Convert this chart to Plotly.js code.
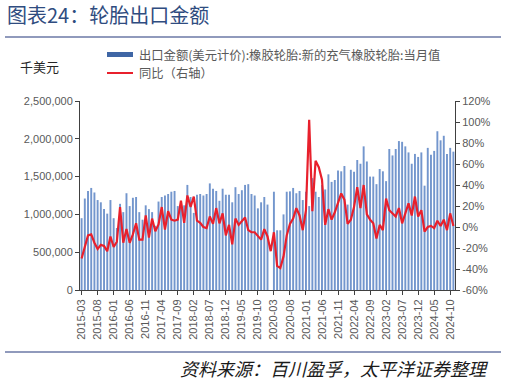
<!DOCTYPE html>
<html>
<head>
<meta charset="utf-8">
<script src="https://cdn.plot.ly/plotly-3.0.1.min.js"></script>
<style>
  html, body { margin: 0; padding: 0; background: #ffffff; }
  #chart { width: 507px; height: 380px; }
</style>
</head>
<body>
<div id="chart"></div>
<script>
// ---- Data ----
const startMonth = "2015-03";
const endMonth = "2024-11";

// Monthly export value, thousand USD (出口金额, 当月值), one row per calendar year
const export2015 = [950000, 1210000, 1310000, 1350000, 1290000, 1190000, 1160000, 1070000, 1010000, 1190000];
const export2016 = [950000, 820000, 1140000, 1030000, 1280000, 1110000, 1220000, 1230000, 1030000, 930000, 1120000, 1070000];
const export2017 = [1030000, 850000, 1170000, 1230000, 1250000, 1270000, 1300000, 1310000, 1110000, 1170000, 1120000, 1390000];
const export2018 = [1230000, 1020000, 1260000, 1270000, 1250000, 1270000, 1410000, 1340000, 1310000, 1180000, 1340000, 1260000];
const export2019 = [1260000, 1160000, 1360000, 1270000, 1320000, 1390000, 1400000, 1270000, 1250000, 1080000, 1160000, 1230000];
const export2020 = [1130000, null, 1300000, 790000, 790000, 1000000, 1300000, 1305000, 1350000, 1280000, 1310000, 1190000];
const export2021 = [1300000, 1110000, 1480000, 1300000, 1230000, 1390000, 1330000, 1530000, 1430000, 1455000, 1580000, 1570000];
const export2022 = [1640000, 1130000, 1590000, 1565000, 1720000, 1670000, 1900000, 1700000, 1500000, 1500000, 1400000, 1600000];
const export2023 = [1570000, 1440000, 1865000, 1780000, 1865000, 1970000, 1960000, 1900000, 1820000, 1670000, 1800000, 1760000];
const export2024 = [1820000, 1380000, 1880000, 1790000, 1840000, 2100000, 1980000, 2040000, 1800000, 1880000, 1830000];

// Year-on-year change, % (同比, right axis)
const yoy2015 = [-30, -19, -8, -7, -15, -21, -17, -18, -23, -9];
const yoy2016 = [-19, -14, 19, -15, -2, -15, -7, 3.5, -12, -12, 11, -10];
const yoy2017 = [8, -4, 2.5, 19, -2.5, 15, 7, 6, 7, 25, 4, 30];
const yoy2018 = [19, 29, 6, 4, 0, -1, 10, 3, 18, 3.5, 13, -8];
const yoy2019 = [2, -16.5, 8, 2, 6, 9, -3, -5, -5, -8, -12, -2];
const yoy2020 = [-9, -23, -5, -37, -39, -28, -8, 3, 8, 18, 11, -3];
const yoy2021 = [16, 102, 15, 63, 57, 45, 2, 17, 7, 14, 22, 32];
const yoy2022 = [26, 3, 7, 19, 38, 18, 40, 12, 7, 3.5, -11, 2];
const yoy2023 = [-3, 27, 16, 13, 10, 18, 3.5, 13, 22.5, 11, 29, 10];
const yoy2024 = [16, -4.4, 0, 1, -1, 6, 1, 7, -3, 13, 1];

const barName = "出口金额(美元计价):橡胶轮胎:新的充气橡胶轮胎:当月值";
const lineName = "同比（右轴）";
const titleText = "图表24：轮胎出口金额";
const unitText = "千美元";
const sourceText = "资料来源：百川盈孚，太平洋证券整理";
const leftTicks = [0, 500000, 1000000, 1500000, 2000000, 2500000];
const rightTicks = [-60, -40, -20, 0, 20, 40, 60, 80, 100, 120];
const rightTickText = ["-60%", "-40%", "-20%", "0%", "20%", "40%", "60%", "80%", "100%", "120%"];

// ---- Build series ----
const exportValues = [].concat(export2015, export2016, export2017, export2018, export2019,
  export2020, export2021, export2022, export2023, export2024);
const yoyValues = [].concat(yoy2015, yoy2016, yoy2017, yoy2018, yoy2019,
  yoy2020, yoy2021, yoy2022, yoy2023, yoy2024);

const months = [];
{
  let y = +startMonth.slice(0, 4), m = +startMonth.slice(5, 7);
  while (true) {
    const s = y + "-" + String(m).padStart(2, "0");
    months.push(s);
    if (s === endMonth) break;
    m++; if (m > 12) { m = 1; y++; }
  }
}
const tickMonths = months.filter((_, i) => i % 5 === 0);

// ---- Layout helpers (pixel -> paper) ----
const W = 507, H = 380;
const L = 80, R = 52, T = 101, B = 90;
const pw = W - L - R, ph = H - T - B;
const px = x => (x - L) / pw;
const py = y => (H - B - y) / ph;

const tickFont = { family: "Liberation Sans, Arial, sans-serif", size: 11, color: "#595959" };
const cjk = "Noto Sans CJK SC, sans-serif";

const traces = [
  {
    type: "bar",
    x: months,
    y: exportValues,
    name: barName,
    marker: { color: "#7396CD" },
    yaxis: "y",
    showlegend: false
  },
  {
    type: "scatter",
    mode: "lines",
    x: months,
    y: yoyValues,
    name: lineName,
    yaxis: "y2",
    line: { color: "#E8202C", width: 2.2 },
    showlegend: false
  }
];

const layout = {
  width: W, height: H,
  margin: { l: L, r: R, t: T, b: B, pad: 0 },
  paper_bgcolor: "#ffffff",
  plot_bgcolor: "#ffffff",
  bargap: 0.4,
  showlegend: false,
  xaxis: {
    type: "category",
    range: [-0.5, months.length - 0.5],
    tickmode: "array",
    tickvals: tickMonths,
    ticktext: tickMonths,
    tickangle: -90,
    ticks: "outside",
    ticklen: 4,
    tickcolor: "#404040",
    showline: true,
    linecolor: "#404040",
    linewidth: 1,
    showgrid: false,
    zeroline: false,
    tickfont: tickFont,
    fixedrange: true
  },
  yaxis: {
    range: [0, 2500000],
    tickmode: "array",
    tickvals: leftTicks,
    tickformat: ",d",
    ticks: "outside",
    ticklen: 4,
    tickcolor: "#404040",
    showline: true,
    linecolor: "#404040",
    linewidth: 1,
    showgrid: false,
    zeroline: false,
    tickfont: tickFont
  },
  yaxis2: {
    overlaying: "y",
    side: "right",
    range: [-60, 120],
    tickmode: "array",
    tickvals: rightTicks,
    ticktext: rightTickText,
    ticks: "outside",
    ticklen: 4,
    tickcolor: "#404040",
    showline: true,
    linecolor: "#404040",
    linewidth: 1,
    showgrid: false,
    zeroline: false,
    tickfont: tickFont
  },
  shapes: [
    { type: "line", xref: "paper", yref: "paper", x0: px(5), x1: px(501), y0: py(37), y1: py(37),
      line: { color: "#6B78A6", width: 1.5 } },
    { type: "line", xref: "paper", yref: "paper", x0: px(5), x1: px(501), y0: py(352), y1: py(352),
      line: { color: "#6B78A6", width: 1.5 } },
    { type: "rect", xref: "paper", yref: "paper", x0: px(107), x1: px(133), y0: py(57), y1: py(52),
      fillcolor: "#3F66A5", line: { width: 0 } },
    { type: "line", xref: "paper", yref: "paper", x0: px(107), x1: px(133), y0: py(73), y1: py(73),
      line: { color: "#E8202C", width: 2 } }
  ],
  annotations: [
    { xref: "paper", yref: "paper", x: px(5), y: py(14), xanchor: "left", yanchor: "middle",
      text: titleText, showarrow: false, font: { family: cjk, size: 20, color: "#2F4C80" } },
    { xref: "paper", yref: "paper", x: px(137), y: py(54.5), xanchor: "left", yanchor: "middle",
      text: barName, showarrow: false, font: { family: cjk, size: 12.3, color: "#595959" } },
    { xref: "paper", yref: "paper", x: px(137), y: py(73), xanchor: "left", yanchor: "middle",
      text: lineName, showarrow: false, font: { family: cjk, size: 12.3, color: "#595959" } },
    { xref: "paper", yref: "paper", x: px(18), y: py(67), xanchor: "left", yanchor: "middle",
      text: unitText, showarrow: false, font: { family: cjk, size: 13, color: "#262626" } },
    { xref: "paper", yref: "paper", x: px(491), y: py(368), xanchor: "right", yanchor: "middle",
      text: "<i>" + sourceText + "</i>", showarrow: false, font: { family: cjk, size: 18, color: "#1a1a1a" } }
  ]
};

Plotly.newPlot("chart", traces, layout, { staticPlot: true, displayModeBar: false });
</script>
</body>
</html>
